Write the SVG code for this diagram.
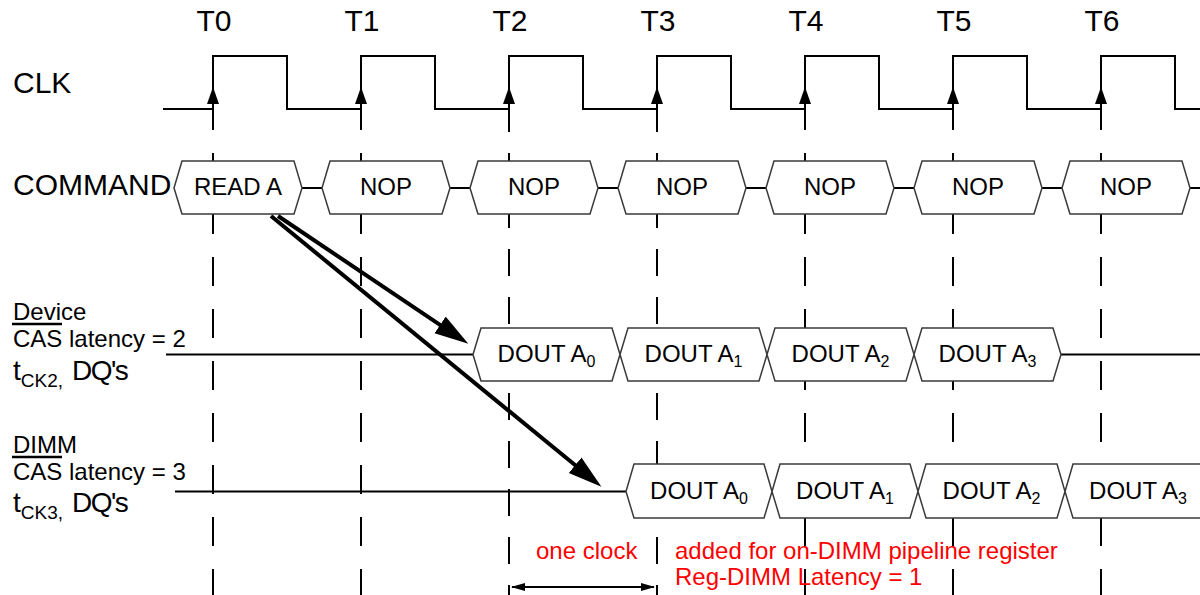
<svg xmlns="http://www.w3.org/2000/svg" width="1200" height="595" viewBox="0 0 1200 595">
<defs>
<style>
text{font-family:"Liberation Sans",Arial,Helvetica,sans-serif;fill:#000}
.big{font-size:30px}
.lbl{font-size:24px}
.cell{font-size:24px;text-anchor:middle}
.sub{font-size:16px}
.red{font-size:24px;fill:#ff0000}
.hex{fill:#fff;stroke:#3a3a3a;stroke-width:1.5}
.wire{fill:none;stroke:#000;stroke-width:2}
.dashA{stroke:#000;stroke-width:2;stroke-dasharray:29 23}
.dashB{stroke:#000;stroke-width:2;stroke-dasharray:27 21}
.bold{stroke:#000;stroke-width:4;fill:none}
</style>
<marker id="bigHead" markerUnits="userSpaceOnUse" markerWidth="40" markerHeight="24" refX="16" refY="10" orient="auto">
<path d="M0,0 L34,10 L0,20 z" fill="#000"/>
</marker>
<marker id="smallHead" markerUnits="userSpaceOnUse" markerWidth="16" markerHeight="10" refX="13" refY="4" orient="auto-start-reverse">
<path d="M0,0 L14,4 L0,8 z" fill="#000"/>
</marker>
</defs>
<rect width="1200" height="595" fill="#fff"/>

<g id="labels">
<text class="big" x="214" y="31" text-anchor="middle">T0</text>
<text class="big" x="362" y="31" text-anchor="middle">T1</text>
<text class="big" x="510" y="31" text-anchor="middle">T2</text>
<text class="big" x="658" y="31" text-anchor="middle">T3</text>
<text class="big" x="806" y="31" text-anchor="middle">T4</text>
<text class="big" x="954" y="31" text-anchor="middle">T5</text>
<text class="big" x="1102" y="31" text-anchor="middle">T6</text>
<text class="big" x="13" y="93">CLK</text>
<text class="big" x="13" y="195">COMMAND</text>
<text class="lbl" x="13" y="320">Device</text>
<text class="lbl" x="13" y="347">CAS latency = 2</text>
<line x1="12" y1="324" x2="62" y2="324" stroke="#000" stroke-width="2.5"/>
<text x="13" y="380" style="font-size:28px">t<tspan dy="7" style="font-size:19px">CK2,</tspan></text>
<text x="72" y="380" style="font-size:28px;letter-spacing:-1.5px">DQ's</text>
<text class="lbl" x="13" y="453">DIMM</text>
<text class="lbl" x="13" y="480">CAS latency = 3</text>
<line x1="12" y1="457" x2="62" y2="457" stroke="#000" stroke-width="2.5"/>
<text x="13" y="512" style="font-size:28px">t<tspan dy="7" style="font-size:19px">CK3,</tspan></text>
<text x="72" y="512" style="font-size:28px;letter-spacing:-1.5px">DQ's</text>
</g>

<g id="gridlines">
<line class="dashA" x1="213" y1="101" x2="213" y2="595"/>
<line class="dashA" x1="361" y1="101" x2="361" y2="595"/>
<line class="dashB" x1="509" y1="105" x2="509" y2="595"/>
<line class="dashB" x1="657" y1="105" x2="657" y2="595"/>
<line class="dashA" x1="805" y1="101" x2="805" y2="595"/>
<line class="dashA" x1="953" y1="101" x2="953" y2="595"/>
<line class="dashA" x1="1101" y1="101" x2="1101" y2="595"/>
</g>

<g id="clk">
<path class="wire" d="M163,109 H213 V56 H287 V109 H361 V56 H435 V109 H509 V56 H583 V109 H657 V56 H731 V109 H805 V56 H879 V109 H953 V56 H1027 V109 H1101 V56 H1175 V109 H1200"/>
<g fill="#000">
<path d="M213,87 L219,104 L207,104 z"/>
<path d="M361,87 L367,104 L355,104 z"/>
<path d="M509,87 L515,104 L503,104 z"/>
<path d="M657,87 L663,104 L651,104 z"/>
<path d="M805,87 L811,104 L799,104 z"/>
<path d="M953,87 L959,104 L947,104 z"/>
<path d="M1101,87 L1107,104 L1095,104 z"/>
</g>
</g>

<g id="command">
<path class="wire" d="M302,188 H322 M450,188 H470 M598,188 H618 M746,188 H766 M894,188 H914 M1042,188 H1062 M1190,188 H1200"/>
<g id="cmd0"><polygon class="hex" points="174,188 182,161 294,161 302,188 294,214 182,214"/><text class="cell" x="238" y="195">READ A</text></g>
<g id="cmd1"><polygon class="hex" points="322,188 330,161 442,161 450,188 442,214 330,214"/><text class="cell" x="386" y="195">NOP</text></g>
<g id="cmd2"><polygon class="hex" points="470,188 478,161 590,161 598,188 590,214 478,214"/><text class="cell" x="534" y="195">NOP</text></g>
<g id="cmd3"><polygon class="hex" points="618,188 626,161 738,161 746,188 738,214 626,214"/><text class="cell" x="682" y="195">NOP</text></g>
<g id="cmd4"><polygon class="hex" points="766,188 774,161 886,161 894,188 886,214 774,214"/><text class="cell" x="830" y="195">NOP</text></g>
<g id="cmd5"><polygon class="hex" points="914,188 922,161 1034,161 1042,188 1034,214 922,214"/><text class="cell" x="978" y="195">NOP</text></g>
<g id="cmd6"><polygon class="hex" points="1062,188 1070,161 1182,161 1190,188 1182,214 1070,214"/><text class="cell" x="1126" y="195">NOP</text></g>
</g>

<g id="device">
<path class="wire" d="M166,354.5 H473 M1061,354.5 H1200"/>
<g id="dev0"><polygon class="hex" points="473,354.5 481,328 612,328 620,354.5 612,381 481,381"/><text class="cell" x="546.5" y="362">DOUT A<tspan class="sub" dy="5">0</tspan></text></g>
<g id="dev1"><polygon class="hex" points="620,354.5 628,328 759,328 767,354.5 759,381 628,381"/><text class="cell" x="693.5" y="362">DOUT A<tspan class="sub" dy="5">1</tspan></text></g>
<g id="dev2"><polygon class="hex" points="767,354.5 775,328 906,328 914,354.5 906,381 775,381"/><text class="cell" x="840.5" y="362">DOUT A<tspan class="sub" dy="5">2</tspan></text></g>
<g id="dev3"><polygon class="hex" points="914,354.5 922,328 1053,328 1061,354.5 1053,381 922,381"/><text class="cell" x="987.5" y="362">DOUT A<tspan class="sub" dy="5">3</tspan></text></g>
</g>

<g id="dimm">
<path class="wire" d="M175,491.5 H626"/>
<g id="dimm0"><polygon class="hex" points="626,491.5 634,464 764,464 772,491.5 764,518 634,518"/><text class="cell" x="699" y="499">DOUT A<tspan class="sub" dy="5">0</tspan></text></g>
<g id="dimm1"><polygon class="hex" points="772,491.5 780,464 910,464 918,491.5 910,518 780,518"/><text class="cell" x="845" y="499">DOUT A<tspan class="sub" dy="5">1</tspan></text></g>
<g id="dimm2"><polygon class="hex" points="918,491.5 926,464 1057,464 1065,491.5 1057,518 926,518"/><text class="cell" x="991.5" y="499">DOUT A<tspan class="sub" dy="5">2</tspan></text></g>
<g id="dimm3"><polygon class="hex" points="1065,491.5 1073,464 1220,464 1228,491.5 1220,518 1073,518"/><text class="cell" x="1138" y="499">DOUT A<tspan class="sub" dy="5">3</tspan></text></g>
</g>

<g id="connectors">
<line class="bold" x1="278" y1="216" x2="453.4" y2="333.8" marker-end="url(#bigHead)"/>
<line class="bold" x1="271" y1="216" x2="587.5" y2="475.3" marker-end="url(#bigHead)"/>
<line x1="512" y1="587" x2="654" y2="587" stroke="#000" stroke-width="2" marker-start="url(#smallHead)" marker-end="url(#smallHead)"/>
</g>

<g id="notes">
<text class="red" x="536" y="559">one clock</text>
<text class="red" x="675" y="559">added for on-DIMM pipeline register</text>
<text class="red" x="675" y="585">Reg-DIMM Latency = 1</text>
</g>
</svg>
